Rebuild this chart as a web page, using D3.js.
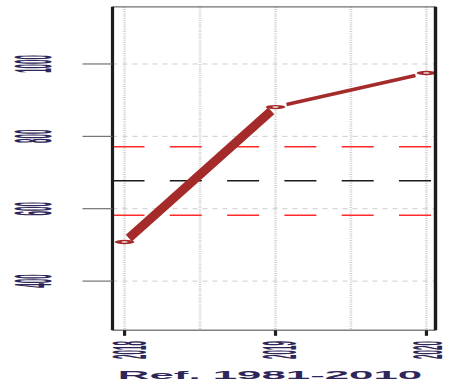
<!DOCTYPE html>
<html>
<head>
<meta charset="utf-8">
<script src="https://cdn.jsdelivr.net/npm/d3@7/dist/d3.min.js"></script>
<style>
html,body{margin:0;padding:0;background:#fff;}
svg{display:block;}
text{font-family:"Liberation Sans",Arial,sans-serif;}
</style>
</head>
<body>
<div id="chart"></div>
<script>
// ---- data ----
const years = [2018, 2019, 2020];
const values = [508, 881, 975];
const refMean = 677;
const refUpper = 771;
const refLower = 582;
const yTicks = [400, 600, 800, 1000];
const xTicks = [2018, 2019, 2020];
const xGrid = [2018, 2018.5, 2019, 2019.5, 2020];
const caption = "Ref. 1981-2010";

// ---- layout ----
const W = 452, H = 384;
const box = {left: 112.5, right: 435.5, top: 6.8, bottom: 330.3};
const K = 6; // horizontal stretch of the picture

const x = d3.scaleLinear().domain([2017.92, 2020.06]).range([box.left, box.right]);
const y = d3.scaleLinear().domain([264, 1158]).range([box.bottom, box.top]);

const svg = d3.select("#chart").append("svg").attr("width", W).attr("height", H);
const textColor = "#2e2658";

// vertical dotted grid
svg.append("g").selectAll("line").data(xGrid).join("line")
  .attr("x1", d => x(d)).attr("x2", d => x(d))
  .attr("y1", box.top).attr("y2", box.bottom)
  .attr("stroke", "#cfcfcf").attr("stroke-width", 2.6).attr("stroke-dasharray", "1,1.2");

// horizontal dashed grid
svg.append("g").selectAll("line").data(yTicks).join("line")
  .attr("x1", box.left).attr("x2", box.right)
  .attr("y1", d => y(d)).attr("y2", d => y(d))
  .attr("stroke", "#cccccc").attr("stroke-width", 1).attr("stroke-dasharray", "5,5");

// reference lines
const refs = [
  {v: refUpper, c: "#ff2b2b"},
  {v: refMean, c: "#1a1a1a"},
  {v: refLower, c: "#ff2b2b"}
];
svg.append("g").selectAll("line").data(refs).join("line")
  .attr("x1", box.left).attr("x2", box.right - 3)
  .attr("y1", d => y(d.v)).attr("y2", d => y(d.v))
  .attr("stroke", d => d.c).attr("stroke-width", 1.5).attr("stroke-dasharray", "32,25.3");

// data line segments with gaps around points (type "b")
const pts = years.map((yr, i) => [x(yr), y(values[i])]);
const gapRx = 14, gapRy = 4, w0 = 2.2;
const segs = [];
for (let i = 0; i < pts.length - 1; i++) {
  const [x0, y0] = pts[i], [x1, y1] = pts[i + 1];
  const dx = x1 - x0, dy = y1 - y0;
  const t = 1 / Math.sqrt((dx / gapRx) ** 2 + (dy / gapRy) ** 2);
  const len = Math.hypot(dx, dy);
  const sw = w0 * Math.sqrt(dx * dx + dy * dy * K * K) / len;
  segs.push({p: [[x0 + dx * t, y0 + dy * t], [x1 - dx * t, y1 - dy * t]], sw});
}
const lineGen = d3.line();
svg.append("g").selectAll("path").data(segs).join("path")
  .attr("d", d => lineGen(d.p))
  .attr("fill", "none").attr("stroke", "#a52a2a")
  .attr("stroke-width", d => d.sw).attr("stroke-linecap", "butt");

// point markers (open circles, stretched)
svg.append("g").selectAll("g").data(pts).join("g")
  .attr("transform", d => `translate(${d[0]},${d[1]}) scale(${K},1.3)`)
  .append("circle").attr("r", 1.1)
  .attr("fill", "none").attr("stroke", "#a52a2a").attr("stroke-width", 1.1);

// plot box
svg.append("line").attr("x1", box.left).attr("x2", box.right).attr("y1", box.top).attr("y2", box.top)
  .attr("stroke", "#707070").attr("stroke-width", 1.2);
svg.append("line").attr("x1", box.left).attr("x2", box.right).attr("y1", box.bottom).attr("y2", box.bottom)
  .attr("stroke", "#808080").attr("stroke-width", 1.4);
svg.append("line").attr("x1", box.left).attr("x2", box.left).attr("y1", box.top).attr("y2", box.bottom)
  .attr("stroke", "#1c1c1c").attr("stroke-width", 3.2);
svg.append("line").attr("x1", box.right).attr("x2", box.right).attr("y1", box.top).attr("y2", box.bottom)
  .attr("stroke", "#1c1c1c").attr("stroke-width", 3.4);

// y axis ticks + labels
svg.append("g").selectAll("line").data(yTicks).join("line")
  .attr("x1", box.left - 30).attr("x2", box.left)
  .attr("y1", d => y(d)).attr("y2", d => y(d))
  .attr("stroke", "#666").attr("stroke-width", 1.1);
svg.append("g").selectAll("text").data(yTicks).join("text")
  .attr("transform", d => `translate(34,${y(d)}) scale(5.1,0.8) rotate(-90)`)
  .attr("text-anchor", "middle").attr("dominant-baseline", "central")
  .attr("font-size", 10).attr("font-weight", "bold").attr("fill", textColor)
  .text(d => d);

// x axis ticks + labels (kept inside the picture's right edge)
svg.append("g").selectAll("line").data(xTicks).join("line")
  .attr("x1", d => x(d)).attr("x2", d => x(d))
  .attr("y1", box.bottom).attr("y2", box.bottom + 5.5)
  .attr("stroke", "#1c1c1c").attr("stroke-width", 3.2);
const emBox = 1.117 * 10;
svg.append("g").selectAll("text").data(xTicks).join("text")
  .attr("transform", d => {
    const cx = Math.min(x(d) + 3.5, W - 25);
    const kx = Math.min(4.9, 2 * (W - 1 - cx) / emBox);
    return `translate(${cx},350) scale(${kx},0.8) rotate(-90)`;
  })
  .attr("text-anchor", "middle").attr("dominant-baseline", "central")
  .attr("font-size", 10).attr("font-weight", "bold").attr("fill", textColor)
  .text(d => d);

// caption
svg.append("text")
  .attr("transform", "translate(270,379) scale(4.38,1.06)")
  .attr("text-anchor", "middle")
  .attr("font-size", 10).attr("font-weight", "bold").attr("fill", textColor)
  .text(caption);
</script>
</body>
</html>
